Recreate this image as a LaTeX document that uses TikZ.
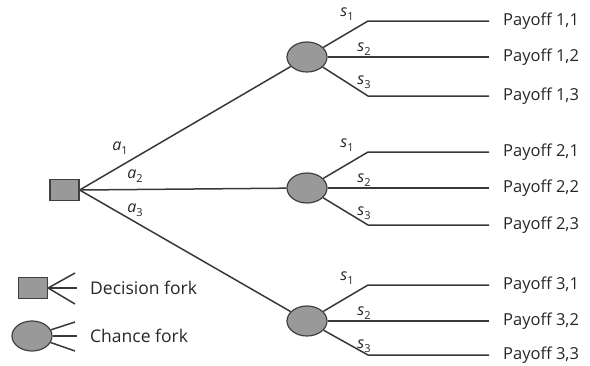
\documentclass[tikz,border=0pt]{standalone}
\usepackage{fontspec}
\setmainfont{Open Sans}
\usetikzlibrary{shapes.geometric}
\newcommand{\lab}[2]{\textit{#1}\raisebox{-0.45ex}{\fontsize{11}{11}\selectfont #2}}
\tikzset{
  wire/.style={draw=black!78, line width=1.5pt},
  dfork/.style={rectangle, draw=black!75, fill=black!40, line width=1.2pt, minimum width=29pt, minimum height=21pt, inner sep=0pt},
  cfork/.style={ellipse, draw=black!75, fill=black!40, line width=1.2pt, minimum width=40pt, minimum height=30pt, inner sep=0pt},
  pay/.style={anchor=west, inner sep=0pt, font=\fontsize{16.5}{17}\selectfont, text=black!85},
  brl/.style={inner sep=0pt, font=\fontsize{16}{16}\selectfont, text=black!85},
  leg/.style={anchor=west, inner sep=0pt, font=\fontsize{17.5}{18}\selectfont, text=black!85}
}
\begin{document}
\begin{tikzpicture}[x=1pt,y=-1pt]
\useasboundingbox (0,0) rectangle (590,365);

% decision node and the three chance nodes
\node[dfork] (d) at (64.5,190) {};
\node[cfork] (c1) at (307,57) {};
\node[cfork] (c2) at (307,188) {};
\node[cfork] (c3) at (307,321) {};

% actions
\draw[wire] (d.east) -- (c1);
\draw[wire] (d.east) -- (c2);
\draw[wire] (d.east) -- (c3);
\node[brl] (a1) at (120,148) {\lab{a}{1}};
\node[brl] (a2) at (135,176) {\lab{a}{2}};
\node[brl] (a3) at (135,210) {\lab{a}{3}};

% states of nature and payoffs
\foreach \i/\y/\b in {1/57/39,2/188/37,3/321/34}{
  \coordinate (k\i1) at (368,\y-36);
  \coordinate (k\i3) at (368,\y+\b);
  \coordinate (e\i1) at (489,\y-36);
  \coordinate (e\i2) at (489,\y);
  \coordinate (e\i3) at (489,\y+\b);
  \draw[wire] (c\i) -- (k\i1) -- (e\i1);
  \draw[wire] (c\i) -- (e\i2);
  \draw[wire] (c\i) -- (k\i3) -- (e\i3);
  \node[brl] (s\i1) at (347,\y-43) {\lab{s}{1}};
  \node[brl] (s\i2) at (364,\y-8) {\lab{s}{2}};
  \node[brl] (s\i3) at (364,\y+25) {\lab{s}{3}};
  \node[pay] (p\i1) at (503,\y-36) {Payoff \i,1};
  \node[pay] (p\i2) at (503,\y) {Payoff \i,2};
  \node[pay] (p\i3) at (503,\y+\b) {Payoff \i,3};
}

% legend
\node[dfork] (ld) at (33,288) {};
\coordinate (ld1) at (75,273);
\coordinate (ld2) at (77,288);
\coordinate (ld3) at (75,304);
\draw[wire] (ld.east) -- (ld1);
\draw[wire] (ld.east) -- (ld2);
\draw[wire] (ld.east) -- (ld3);
\node[leg] (ldt) at (90,288) {Decision fork};

\node[cfork] (lc) at (32,336) {};
\coordinate (lc1) at (75,322);
\coordinate (lc2) at (77,336);
\coordinate (lc3) at (75,351);
\draw[wire] (lc) -- (lc1);
\draw[wire] (lc) -- (lc2);
\draw[wire] (lc) -- (lc3);
\node[leg] (lct) at (90,336) {Chance fork};
\end{tikzpicture}
\end{document}
